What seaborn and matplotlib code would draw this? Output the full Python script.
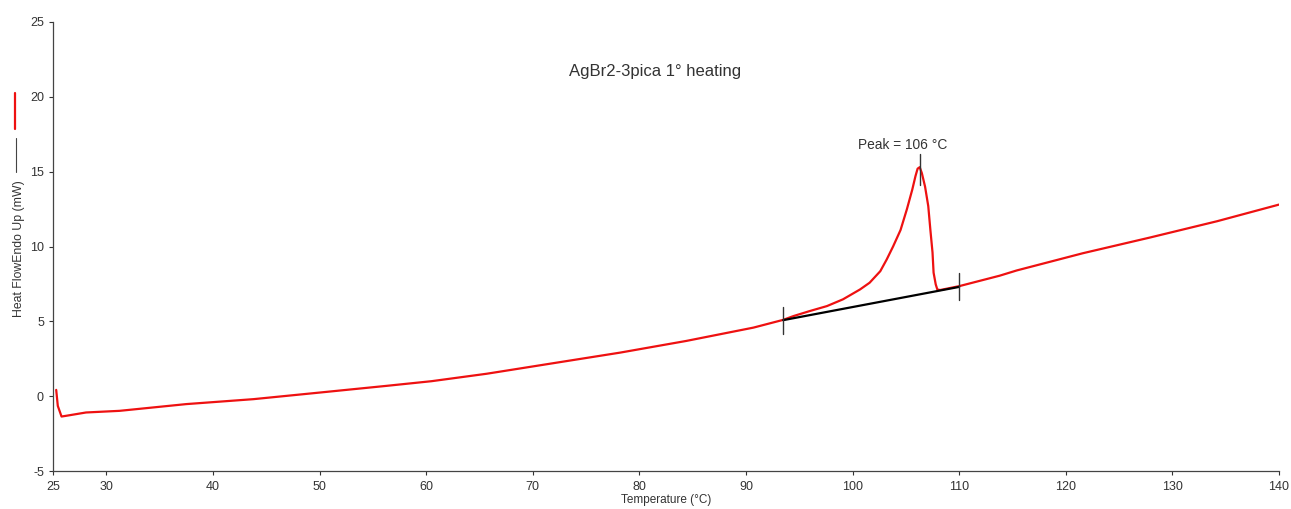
import matplotlib
matplotlib.use("Agg")
import matplotlib.pyplot as plt
from matplotlib.lines import Line2D
import seaborn as sns
import pandas as pd

# ---- data ----
temperature = [25.3, 25.45, 25.8, 26.25, 28.1, 31.25, 37.5, 43.8, 50.0, 56.3, 60.5, 65.7,
               71.9, 78.2, 84.4, 90.7, 93.5, 94.45, 96.0, 97.6, 99.1, 100.7, 101.6, 102.6,
               103.2, 103.8, 104.5, 105.1, 105.6, 105.9, 106.1, 106.3, 106.5, 106.8, 107.1,
               107.3, 107.5, 107.6, 107.8, 107.95, 108.2, 110.0, 113.8, 115.4, 121.6, 127.9,
               134.2, 140.0]
heat_flow = [0.42, -0.65, -1.36, -1.31, -1.09, -0.98, -0.53, -0.2, 0.24, 0.69, 1.0, 1.5,
             2.2, 2.91, 3.69, 4.58, 5.1, 5.35, 5.69, 6.02, 6.47, 7.13, 7.58, 8.35,
             9.13, 10.0, 11.1, 12.5, 13.8, 14.7, 15.2, 15.3, 14.9, 14.0, 12.7,
             11.1, 9.6, 8.25, 7.47, 7.13, 7.09, 7.35, 8.05, 8.4, 9.55, 10.6,
             11.69, 12.8]
baseline_temp = [93.5, 110.0]
baseline_flow = [5.08, 7.3]
peak_temp = 106.3
peak_flow = 15.3
x_ticks = [25, 30, 40, 50, 60, 70, 80, 90, 100, 110, 120, 130, 140]
y_ticks = [-5, 0, 5, 10, 15, 20, 25]
title_text = "AgBr2-3pica 1° heating"
peak_label = "Peak = 106 °C"

sns.set_style("white")
plt.rcParams['font.family'] = ['Liberation Sans', 'DejaVu Sans']
plt.rcParams['axes.unicode_minus'] = False

fig = plt.figure(figsize=(12.91, 5.09), dpi=100)
ax = fig.add_axes([53/1291, 1 - 471/509, (1279 - 53)/1291, (471 - 22)/509])

df = pd.DataFrame({"T": temperature, "Q": heat_flow})
sns.lineplot(data=df, x="T", y="Q", sort=False, color="#ee1111", linewidth=1.6, ax=ax)
bdf = pd.DataFrame({"T": baseline_temp, "Q": baseline_flow})
sns.lineplot(data=bdf, x="T", y="Q", sort=False, color="black", linewidth=1.6, ax=ax)

# tick marks on baseline ends and peak
for t, q in zip(baseline_temp, baseline_flow):
    ax.plot([t, t], [q - 0.9, q + 0.9], color="#333333", linewidth=1.0)
ax.plot([peak_temp, peak_temp], [peak_flow - 1.2, peak_flow + 0.9], color="#333333", linewidth=1.0)
ax.text(0.6932, 0.726, peak_label, transform=ax.transAxes, ha="center", va="center",
        fontsize=9.9, color="#333333")
ax.text(0.491, 0.889, title_text, transform=ax.transAxes, ha="center", va="center",
        fontsize=12, color="#333333")

ax.set_xlim(25, 140)
ax.set_ylim(-5, 25)
ax.set_xticks(x_ticks)
ax.set_yticks(y_ticks)
ax.tick_params(axis="both", labelsize=9, labelcolor="#333333", length=3, width=0.8,
               direction="out", color="#333333", bottom=True, left=True)
ax.tick_params(axis="x", pad=4)
for s in ["top", "right"]:
    ax.spines[s].set_visible(False)
for s in ["left", "bottom"]:
    ax.spines[s].set_color("#444444")
    ax.spines[s].set_linewidth(0.9)

ax.set_xlabel("Temperature (°C)", fontsize=8.5, color="#333333", labelpad=1)
ax.set_ylabel("Heat FlowEndo Up (mW)", fontsize=8.8, color="#333333")
ax.yaxis.set_label_coords(-0.0225, 0.496)

# legend marks drawn inside the y-label area
fig.add_artist(Line2D([15/1291, 15/1291], [1 - 93/509, 1 - 129/509], color="#ee1111", linewidth=1.6))
fig.add_artist(Line2D([16/1291, 16/1291], [1 - 138/509, 1 - 172/509], color="#444444", linewidth=0.8))

fig.savefig("out.png", dpi=100)
